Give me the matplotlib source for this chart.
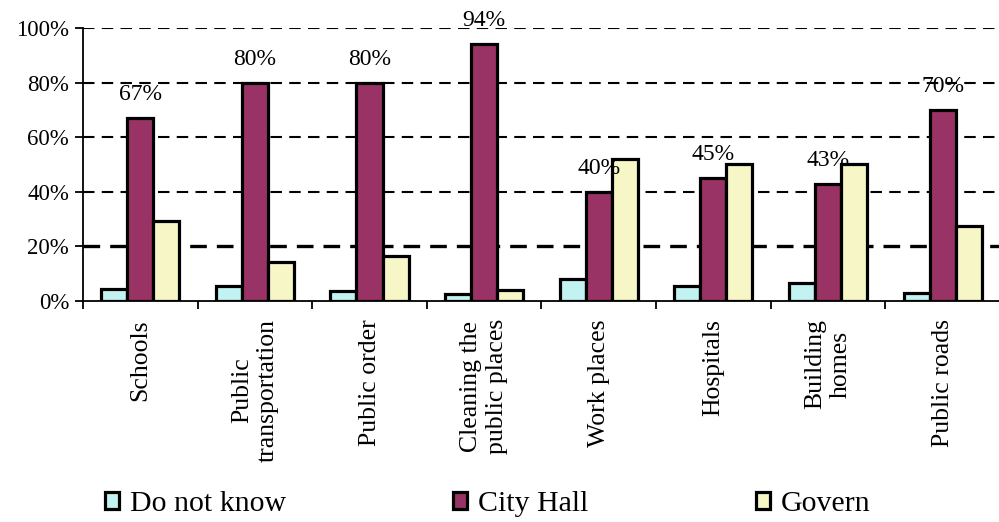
import numpy as np
import matplotlib
matplotlib.use("Agg")
import matplotlib.pyplot as plt

# data
categories = ["Schools", "Public\ntransportation", "Public order",
              "Cleaning the\npublic places", "Work places", "Hospitals",
              "Building\nhomes", "Public roads"]
do_not_know = [4.4, 5.6, 3.8, 2.5, 8, 5.5, 6.7, 3]
city_hall = [67, 80, 80, 94, 40, 45, 43, 70]
govern = [29.4, 14.3, 16.6, 4, 52, 50, 50, 27.5]
series_names = ["Do not know", "City Hall", "Govern"]
yticks = [0, 20, 40, 60, 80, 100]

plt.rcParams['font.family'] = ['Liberation Serif', 'DejaVu Serif']

fig = plt.figure(figsize=(9.99, 5.22), dpi=100)
ax = fig.add_axes([0.083, 0.4234, 0.918, 0.523])

x = np.arange(len(categories))
w = 0.227
colors = ['#c2f2f2', '#993366', '#f6f6c6']
series = [do_not_know, city_hall, govern]

# grid lines first so bars sit on top
for yv in yticks[1:]:
    ax.axhline(yv, color='black', lw=2.4 if yv == 20 else 1.5,
               ls=(0, (5, 3)) if yv == 20 else (0, (5.5, 3.5)), zorder=1)

bars = []
for i, (vals, col) in enumerate(zip(series, colors)):
    b = ax.bar(x + (i - 1) * w, vals, width=w, color=col, edgecolor='black',
               linewidth=2.3, label=series_names[i], zorder=3)
    bars.append(b)

# value labels on the City Hall bars
for xi, v in zip(x, city_hall):
    ax.annotate(f"{v}%", (xi, v), xytext=(0, 13), textcoords='offset points',
                ha='center', va='baseline', fontsize=17, zorder=5)

ax.set_xlim(-0.5, len(categories) - 0.5)
ax.set_ylim(0, 100)
ax.set_yticks(yticks)
ax.set_yticklabels([f"{t}%" for t in yticks], fontsize=16.5)
ax.tick_params(axis='y', direction='out', length=6, width=1.3, pad=4)

ax.set_xticks(x)
ax.set_xticklabels(categories, rotation=90, fontsize=18.5, va='top',
                   ha='center', multialignment='center')
ax.set_xticks(np.arange(len(categories) + 1) - 0.5, minor=True)
ax.tick_params(axis='x', which='major', length=0, pad=13)
ax.tick_params(axis='x', which='minor', length=6, width=1.3, direction='out')

for s in ['top', 'right']:
    ax.spines[s].set_visible(False)
ax.spines['left'].set_linewidth(1.3)
ax.spines['bottom'].set_linewidth(1.3)

fig.legend(handles=bars, labels=series_names, loc='center left',
           bbox_to_anchor=(0.105, 0.034), ncol=3, frameon=False,
           fontsize=21.5, handlelength=0.47, handleheight=0.47,
           handletextpad=0.37, columnspacing=5.6, borderpad=0,
           borderaxespad=0)

fig.savefig("out.png", dpi=100)
